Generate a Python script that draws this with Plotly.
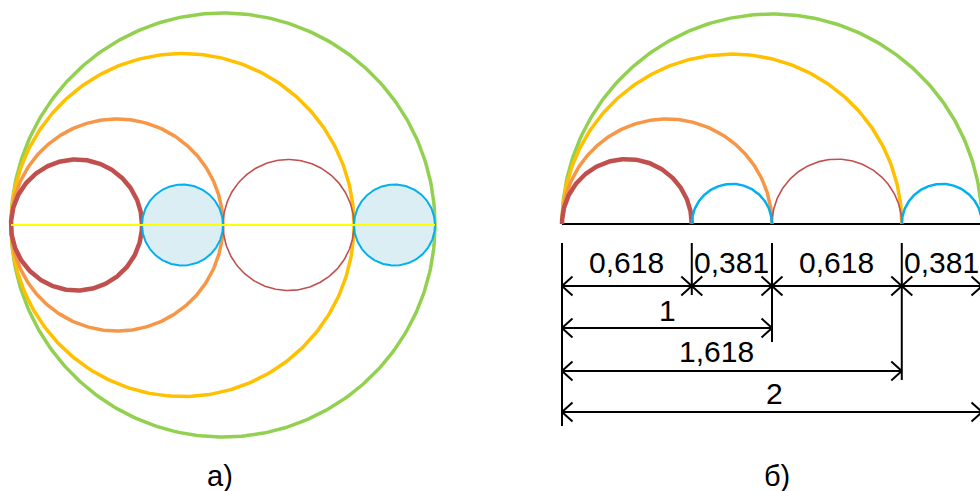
import numpy as np
import plotly.graph_objects as go

# ---------------- data ----------------
# circles (panel a) and semicircles (panel б), as [start, end] on the diameter line
circle_starts = [0, 0, 0, 0, 1, 0.618, 1.618]
circle_ends = [2, 1.618, 1, 0.618, 1.618, 1, 2]
circle_colors = ["#92D050", "#FFC000", "#F79646", "#C0504D", "#C0504D", "#00B0F0", "#00B0F0"]

# dimension chain (panel б)
seg_bounds = [0, 0.618, 1, 1.618, 2]
seg_labels = ["0,618", "0,381", "0,618", "0,381"]
total_ends = [1, 1.618, 2]
total_labels = ["1", "1,618", "2"]

# ---------------- styles ----------------
widths_a = [3.5, 3.5, 3.5, 4.5, 1.6, 2.0, 2.0]
widths_b = [3.5, 3.5, 3.5, 4.5, 1.6, 2.5, 2.5]
FILL = "#DAEEF3"
FONT = "Liberation Sans, Arial, sans-serif"

W, H = 980, 491
# panel a pixel mapping
SA, XA0, YA0 = 212.0, 11.0, 225.0
# panel b pixel mapping
SB, XB0, YB0 = 210.0, 562.0, 224.0
SPLIT = 490

fig = go.Figure()
t = np.linspace(0, 2 * np.pi, 361)
th = np.linspace(0, np.pi, 181)

# ----- panel a: full circles -----
for i in range(len(circle_starts)):
    a, b = circle_starts[i], circle_ends[i]
    c, r = (a + b) / 2, (b - a) / 2
    filled = circle_colors[i] == "#00B0F0"
    fig.add_trace(go.Scatter(
        x=c + r * np.cos(t), y=r * np.sin(t), mode="lines",
        line=dict(color=circle_colors[i], width=widths_a[i]),
        fill="toself" if filled else None,
        fillcolor=FILL if filled else None,
        xaxis="x", yaxis="y", hoverinfo="skip", showlegend=False))

# yellow diameter line
fig.add_trace(go.Scatter(
    x=[min(circle_starts), max(circle_ends)], y=[0, 0], mode="lines",
    line=dict(color="#FFFF00", width=2), xaxis="x", yaxis="y",
    hoverinfo="skip", showlegend=False))

# ----- panel b: baseline + semicircles -----
fig.add_trace(go.Scatter(
    x=[min(circle_starts), max(circle_ends)], y=[0, 0], mode="lines",
    line=dict(color="black", width=2), xaxis="x2", yaxis="y2",
    hoverinfo="skip", showlegend=False))

for i in range(len(circle_starts)):
    a, b = circle_starts[i], circle_ends[i]
    c, r = (a + b) / 2, (b - a) / 2
    fig.add_trace(go.Scatter(
        x=c + r * np.cos(th), y=r * np.sin(th), mode="lines",
        line=dict(color=circle_colors[i], width=widths_b[i]),
        xaxis="x2", yaxis="y2", hoverinfo="skip", showlegend=False))

# ----- dimension lines -----
def px_y(p):
    return (YB0 - p) / SB

ext_top = px_y(243)
row_y = [px_y(286), px_y(328), px_y(371), px_y(412)]
lab_y = [px_y(262), px_y(310), px_y(351), px_y(393)]
ext_bottom = [px_y(426), px_y(295), px_y(342), px_y(380), px_y(426)]
AX, AY = 10.5 / SB, 9.5 / SB

xs, ys = [], []

def seg(x1, y1, x2, y2):
    xs.extend([x1, x2, None])
    ys.extend([y1, y2, None])

def dim(xa, xb, y):
    seg(xa, y, xb, y)
    seg(xa, y, xa + AX, y + AY)
    seg(xa, y, xa + AX, y - AY)
    seg(xb, y, xb - AX, y + AY)
    seg(xb, y, xb - AX, y - AY)

for k, xv in enumerate(seg_bounds):
    seg(xv, ext_top, xv, ext_bottom[k])
for k in range(len(seg_labels)):
    dim(seg_bounds[k], seg_bounds[k + 1], row_y[0])
for k, e in enumerate(total_ends):
    dim(0, e, row_y[k + 1])

fig.add_trace(go.Scatter(
    x=xs, y=ys, mode="lines", line=dict(color="black", width=2),
    xaxis="x2", yaxis="y2", hoverinfo="skip", showlegend=False))

annotations = []
for k, lab in enumerate(seg_labels):
    annotations.append(dict(
        x=(seg_bounds[k] + seg_bounds[k + 1]) / 2, y=lab_y[0], xref="x2", yref="y2",
        text=lab, showarrow=False, xanchor="center", yanchor="middle",
        font=dict(family=FONT, size=30, color="black")))
lab_x_shift = [0, -0.074, 0.01]
for k, lab in enumerate(total_labels):
    annotations.append(dict(
        x=total_ends[k] / 2 + lab_x_shift[k], y=lab_y[k + 1], xref="x2", yref="y2",
        text=lab, showarrow=False, xanchor="center", yanchor="middle",
        font=dict(family=FONT, size=30, color="black")))

annotations.append(dict(x=220 / W, y=1 - 476 / H, xref="paper", yref="paper",
                        text="а)", showarrow=False, xanchor="center", yanchor="middle",
                        font=dict(family=FONT, size=29, color="black")))
annotations.append(dict(x=777 / W, y=1 - 476 / H, xref="paper", yref="paper",
                        text="б)", showarrow=False, xanchor="center", yanchor="middle",
                        font=dict(family=FONT, size=29, color="black")))

ax_common = dict(visible=False, showgrid=False, zeroline=False, fixedrange=True)
fig.update_layout(
    width=W, height=H, margin=dict(l=0, r=0, t=0, b=0),
    paper_bgcolor="white", plot_bgcolor="white",
    xaxis=dict(domain=[0, SPLIT / W], range=[(0 - XA0) / SA, (SPLIT - XA0) / SA], anchor="y", **ax_common),
    yaxis=dict(domain=[0, 1], range=[(YA0 - H) / SA, YA0 / SA], anchor="x", **ax_common),
    xaxis2=dict(domain=[SPLIT / W, 1], range=[(SPLIT - XB0) / SB, (W - XB0) / SB], anchor="y2", **ax_common),
    yaxis2=dict(domain=[0, 1], range=[(YB0 - H) / SB, YB0 / SB], anchor="x2", **ax_common),
    annotations=annotations,
    showlegend=False,
)

fig.write_html(
    "out.html",
    config={"displayModeBar": False},
    post_script="document.body.style.margin='0';"
                "document.documentElement.style.overflow='hidden';"
                "document.body.style.overflow='hidden';",
)
